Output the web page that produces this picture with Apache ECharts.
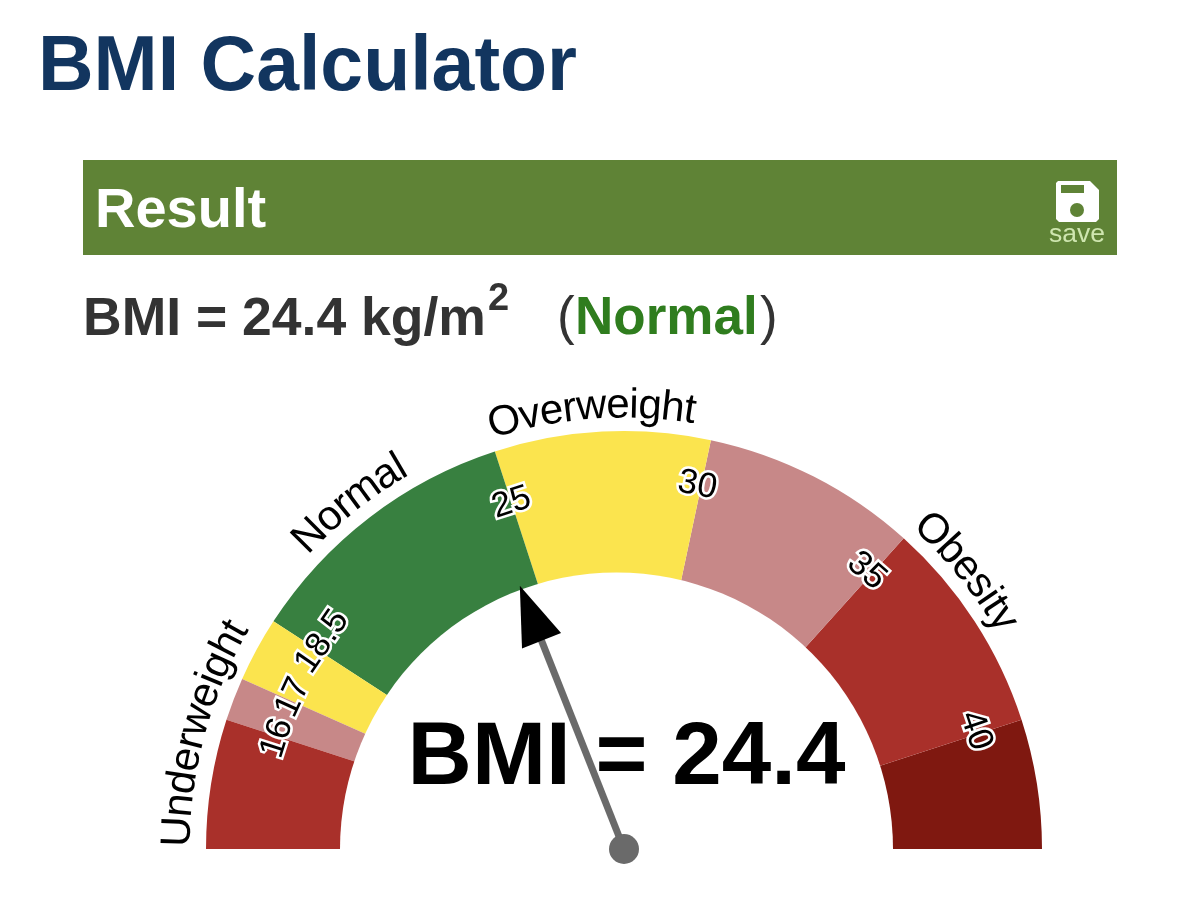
<!DOCTYPE html>
<html>
<head>
<meta charset="utf-8">
<style>html,body{margin:0;padding:0;background:#fff}#c{width:1200px;height:919px}</style>
<script src="https://cdn.jsdelivr.net/npm/echarts@6/dist/echarts.min.js"></script>
</head>
<body>
<div id="c"></div>
<script>
// ---- data ----
var bmiValue = 24.4;
var scaleMin = 13;
var scaleMax = 43;
var bandEdges = [16, 17, 18.5, 25, 30, 35, 40, 43];
var bandColors = ['#a9302a', '#c78888', '#fbe44e', '#388040', '#fbe44e', '#c78888', '#a9302a', '#7f1810'];
var tickLabels = ['16', '17', '18.5', '25', '30', '35', '40'];
var tickLabelAt = [15.95, 17.1, 18.75, 25, 29.9, 34.85, 39.9];
var tickLabelR = [364, 364, 366, 364, 371, 369, 371];
var zoneNames = ['Underweight', 'Normal', 'Overweight', 'Obesity'];
var zoneCentres = [15.55, 21.6, 27.3, 36.5];
var zoneRadii = [446, 443, 443, 443];

var FONT = '"Liberation Sans", Arial, Helvetica, sans-serif';
var cx = 624, cy = 849, outerR = 418, bandW = 160;
var holeCx = 616.5, holeR = 276.5;
var degPerUnit = 180 / (scaleMax - scaleMin);
var zoneFontSize = 42;

function rot(v) { return 90 - (v - scaleMin) * degPerUnit; }

// letters of the zone names follow the arc
var ctx = document.createElement('canvas').getContext('2d');
ctx.font = zoneFontSize + 'px ' + FONT;
var letterData = [];
zoneNames.forEach(function (word, i) {
  var total = ctx.measureText(word).width;
  var run = 0;
  for (var k = 0; k < word.length; k++) {
    var w = ctx.measureText(word.charAt(k)).width;
    var s = run + w / 2 - total / 2;
    var v = zoneCentres[i] + (s / 450) * (180 / Math.PI) / degPerUnit;
    letterData.push({
      value: [zoneRadii[i], v],
      label: { formatter: word.charAt(k), rotate: rot(v) }
    });
    run += w;
  }
});
var tickData = tickLabels.map(function (t, i) {
  return { value: [tickLabelR[i], tickLabelAt[i]], label: { formatter: t, rotate: rot(tickLabelAt[i]) } };
});

var stops = bandEdges.map(function (e, i) {
  return [(e - scaleMin) / (scaleMax - scaleMin), bandColors[i]];
});

var option = {
  animation: false,
  backgroundColor: '#ffffff',
  polar: { center: [cx, cy], radius: 500 },
  radiusAxis: { min: 0, max: 500, show: false },
  angleAxis: { min: scaleMin, max: scaleMin + 2 * (scaleMax - scaleMin), startAngle: 180, clockwise: true, show: false },
  graphic: [
    { type: 'text', left: 38, top: 30, style: { text: 'BMI Calculator', font: 'bold 77px ' + FONT, fill: '#12355f' } },
    { type: 'rect', shape: { x: 83, y: 160, width: 1034, height: 95 }, style: { fill: '#5f8336' } },
    { type: 'text', x: 95, y: 184, style: { text: 'Result', font: 'bold 56px ' + FONT, fill: '#ffffff' } },
    { type: 'polygon', shape: { points: [[1058, 181], [1090, 181], [1099, 190], [1099, 219], [1096, 222], [1059, 222], [1056, 219], [1056, 183]] }, style: { fill: '#ffffff' } },
    { type: 'rect', shape: { x: 1061, y: 185, width: 23, height: 8 }, style: { fill: '#5f8336' } },
    { type: 'circle', shape: { cx: 1077, cy: 210, r: 7 }, style: { fill: '#5f8336' } },
    { type: 'text', x: 1049, y: 221, style: { text: 'save', font: '26.5px ' + FONT, fill: '#cfe6b0' } },
    { type: 'text', x: 83, y: 293, style: { text: 'BMI = 24.4 kg/m', font: 'bold 53.5px ' + FONT, fill: '#333333' } },
    { type: 'text', x: 488, y: 281, style: { text: '2', font: 'bold 38px ' + FONT, fill: '#333333' } },
    { type: 'text', x: 557, y: 293, style: { text: '(', font: '53px ' + FONT, fill: '#333333' } },
    { type: 'text', x: 575, y: 293, style: { text: 'Normal', font: 'bold 53px ' + FONT, fill: '#2f7d1e' } },
    { type: 'text', x: 760, y: 293, style: { text: ')', font: '53px ' + FONT, fill: '#333333' } }
  ],
  series: [
    {
      type: 'gauge', center: [cx, cy], radius: outerR, min: scaleMin, max: scaleMax,
      startAngle: 180, endAngle: 0, z: 2,
      axisLine: { lineStyle: { width: bandW, color: stops } },
      axisTick: { show: false }, splitLine: { show: false }, axisLabel: { show: false },
      pointer: { show: false }, anchor: { show: false }, title: { show: false }, detail: { show: false },
      data: [{ value: bmiValue }]
    },
    {
      type: 'gauge', center: [holeCx, cy], radius: holeR, min: scaleMin, max: scaleMax,
      startAngle: 180, endAngle: 0, z: 3,
      axisLine: { lineStyle: { width: holeR, color: [[1, '#ffffff']] } },
      axisTick: { show: false }, splitLine: { show: false }, axisLabel: { show: false },
      pointer: { show: false }, anchor: { show: false }, title: { show: false },
      detail: {
        show: true, offsetCenter: [10, -90], formatter: 'BMI = {value}',
        fontFamily: FONT, fontWeight: 'bold', fontSize: 89, color: '#000000', valueAnimation: false
      },
      data: [{ value: bmiValue }]
    },
    {
      type: 'gauge', center: [cx, cy], radius: outerR, min: scaleMin, max: scaleMax,
      startAngle: 180, endAngle: 0, z: 4,
      axisLine: { show: false }, axisTick: { show: false }, splitLine: { show: false }, axisLabel: { show: false },
      pointer: { show: true, icon: 'rect', width: 7, length: 226, itemStyle: { color: '#6a6a6a' } },
      anchor: { show: true, size: 30, showAbove: true, itemStyle: { color: '#6a6a6a' } },
      title: { show: false }, detail: { show: false },
      data: [{ value: bmiValue }]
    },
    {
      type: 'gauge', center: [cx, cy], radius: outerR, min: scaleMin, max: scaleMax,
      startAngle: 180, endAngle: 0, z: 5,
      axisLine: { show: false }, axisTick: { show: false }, splitLine: { show: false }, axisLabel: { show: false },
      pointer: { show: true, icon: 'triangle', width: 42, length: 59, offsetCenter: [0, -224], itemStyle: { color: '#000000' } },
      anchor: { show: false }, title: { show: false }, detail: { show: false },
      data: [{ value: bmiValue }]
    },
    {
      type: 'scatter', coordinateSystem: 'polar', symbolSize: 1, z: 6, silent: true,
      itemStyle: { color: 'rgba(0,0,0,0)', opacity: 1 },
      label: {
        show: true, position: 'inside', align: 'center', verticalAlign: 'middle',
        fontFamily: FONT, fontSize: zoneFontSize, color: '#000000'
      },
      data: letterData
    },
    {
      type: 'scatter', coordinateSystem: 'polar', symbolSize: 1, z: 7, silent: true,
      itemStyle: { color: 'rgba(0,0,0,0)', opacity: 1 },
      label: {
        show: true, position: 'inside', align: 'center', verticalAlign: 'middle',
        fontFamily: FONT, fontSize: 35, color: '#000000', textBorderColor: '#ffffff', textBorderWidth: 5
      },
      data: tickData
    }
  ]
};
var chart = echarts.init(document.getElementById('c'), null, { renderer: 'canvas' });
chart.setOption(option);
</script>
</body>
</html>
